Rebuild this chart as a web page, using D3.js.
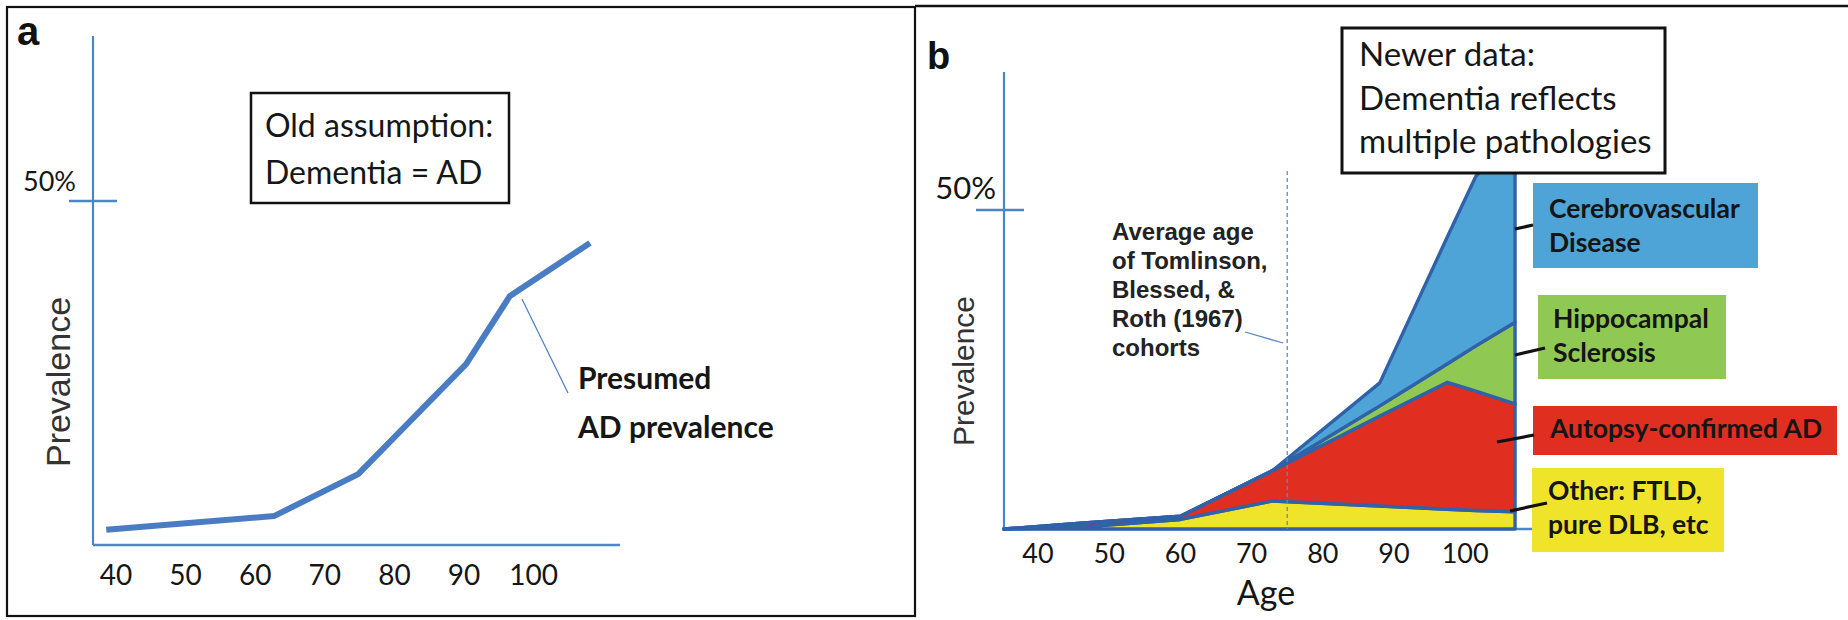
<!DOCTYPE html>
<html>
<head>
<meta charset="utf-8">
<script src="https://cdn.jsdelivr.net/npm/d3@7"></script>
<style>
  html, body { margin: 0; padding: 0; background: #fff; }
  svg { display: block; }
</style>
</head>
<body>
<svg id="chart" width="1848" height="620"></svg>
<script>
// ---------------- DATA ----------------
// Panel a: presumed AD prevalence (old assumption)
const agesA = [38.6, 62.7, 74.8, 90.3, 96.6, 108.1];
const presumedAD = [2.2, 4.2, 10.3, 26.3, 36.2, 43.9];

// Panel b: stacked prevalence by pathology (% thickness of each layer)
const agesB = [35.2, 46, 60, 73, 88, 97.5, 101.5, 107];
const otherVals = [0, 0.3, 1.5, 4.4, 3.6, 3.1, 2.9, 2.7];      // Other: FTLD, pure DLB, etc
const adVals    = [0, 0.6, 0.5, 4.8, 14.1, 19.9, 18.7, 16.9];  // Autopsy-confirmed AD
const hsVals    = [0, 0, 0, 0, 1.6, 2.9, 7.1, 12.8];           // Hippocampal sclerosis
const cvdVals   = [0, 0, 0, 0, 3.6, 19.9, 26.6, 29.0];         // Cerebrovascular disease

const tickAges = [40, 50, 60, 70, 80, 90, 100];
const yTickValue = 50;
const cohortAge = 75;

const seriesKeys = ["other", "ad", "hs", "cvd"];
const seriesColors = { other: "#f0e42a", ad: "#e02e20", hs: "#8fc852", cvd: "#4ea4d6" };
const seriesLabels = {
  cvd:   ["Cerebrovascular", "Disease"],
  hs:    ["Hippocampal", "Sclerosis"],
  ad:    ["Autopsy-confirmed AD"],
  other: ["Other: FTLD,", "pure DLB, etc"]
};
const cohortNote = ["Average age", "of Tomlinson,", "Blessed, &", "Roth (1967)", "cohorts"];

// ---------------- SETUP ----------------
const svg = d3.select("#chart");
const AXIS = "#4a86c8";
const OUTLINE = "#2f62a8";
const CAL = "Lato, 'Open Sans', sans-serif";
const ARIAL = "'Liberation Sans', Arial, sans-serif";
const INK = "#161616";

// frames
svg.append("rect").attr("x", 7).attr("y", 7).attr("width", 908).attr("height", 609)
  .attr("fill", "none").attr("stroke", "#111").attr("stroke-width", 2.2);
svg.append("line").attr("x1", 915).attr("x2", 1848).attr("y1", 6).attr("y2", 6)
  .attr("stroke", "#111").attr("stroke-width", 2.5);

// ================= PANEL A =================
const xA = d3.scaleLinear().domain([40, 90]).range([116, 464]);
const yA = d3.scaleLinear().domain([0, 50]).range([545, 201]);
const gA = svg.append("g");

gA.append("text").attr("x", 17).attr("y", 45).text("a")
  .attr("font-family", ARIAL).attr("font-weight", "bold").attr("font-size", 40).attr("fill", "#111");

// axes
gA.append("line").attr("x1", 93).attr("x2", 93).attr("y1", 36).attr("y2", yA(0))
  .attr("stroke", AXIS).attr("stroke-width", 2.2);
gA.append("line").attr("x1", 93).attr("x2", 620).attr("y1", yA(0)).attr("y2", yA(0))
  .attr("stroke", AXIS).attr("stroke-width", 2.4);
gA.append("line").attr("x1", 69).attr("x2", 117).attr("y1", yA(yTickValue)).attr("y2", yA(yTickValue))
  .attr("stroke", AXIS).attr("stroke-width", 2.4);
gA.append("text").attr("x", 76).attr("y", yA(yTickValue) - 10).attr("text-anchor", "end")
  .attr("font-family", CAL).attr("font-size", 27).attr("fill", INK).text(yTickValue + "%");

gA.selectAll("text.tick").data(tickAges).join("text").attr("class", "tick")
  .attr("x", d => xA(d)).attr("y", 585).attr("text-anchor", "middle")
  .attr("font-family", CAL).attr("font-size", 28).attr("fill", INK).text(d => d);

gA.append("text").attr("transform", "translate(70,382) rotate(-90)").attr("text-anchor", "middle")
  .attr("font-family", ARIAL).attr("font-size", 34).attr("fill", "#333").text("Prevalence");

// line
const lineA = d3.line().x((d, i) => xA(agesA[i])).y(d => yA(d));
gA.append("path").datum(presumedAD).attr("d", lineA)
  .attr("fill", "none").attr("stroke", "#4a7cc4").attr("stroke-width", 6).attr("stroke-linejoin", "round");

// annotation
gA.append("line").attr("x1", xA(agesA[4]) + 12).attr("y1", yA(presumedAD[4]) + 3)
  .attr("x2", 568).attr("y2", 393).attr("stroke", "#4a7cc4").attr("stroke-width", 1.2);
gA.append("text").attr("x", 578).attr("y", 389).attr("font-family", CAL).attr("font-weight", "bold")
  .attr("font-size", 30).attr("fill", INK).text("Presumed");
gA.append("text").attr("x", 578).attr("y", 438).attr("font-family", CAL).attr("font-weight", "bold")
  .attr("font-size", 30).attr("fill", INK).text("AD prevalence");

// box
gA.append("rect").attr("x", 251).attr("y", 93).attr("width", 258).attr("height", 110)
  .attr("fill", "#fff").attr("stroke", "#111").attr("stroke-width", 2.5);
gA.append("text").attr("x", 265).attr("y", 137).attr("font-family", CAL).attr("font-size", 32)
  .attr("fill", INK).text("Old assumption:");
gA.append("text").attr("x", 265).attr("y", 184).attr("font-family", CAL).attr("font-size", 32)
  .attr("fill", INK).text("Dementia = AD");

// ================= PANEL B =================
const xB = d3.scaleLinear().domain([40, 90]).range([1038, 1394]);
const yB = d3.scaleLinear().domain([0, 50]).range([529, 210]);
const gB = svg.append("g");

gB.append("text").attr("x", 927).attr("y", 69).text("b")
  .attr("font-family", ARIAL).attr("font-weight", "bold").attr("font-size", 38).attr("fill", "#111");

gB.append("line").attr("x1", 1004).attr("x2", 1004).attr("y1", 72).attr("y2", yB(0))
  .attr("stroke", AXIS).attr("stroke-width", 2.2);
gB.append("line").attr("x1", 1004).attr("x2", 1532).attr("y1", yB(0)).attr("y2", yB(0))
  .attr("stroke", AXIS).attr("stroke-width", 2.6);
gB.append("line").attr("x1", 976).attr("x2", 1024).attr("y1", yB(yTickValue)).attr("y2", yB(yTickValue))
  .attr("stroke", AXIS).attr("stroke-width", 2.4);
gB.append("text").attr("x", 996).attr("y", yB(yTickValue) - 11).attr("text-anchor", "end")
  .attr("font-family", CAL).attr("font-size", 31).attr("fill", INK).text(yTickValue + "%");

gB.selectAll("text.tick").data(tickAges).join("text").attr("class", "tick")
  .attr("x", d => xB(d)).attr("y", 563).attr("text-anchor", "middle")
  .attr("font-family", CAL).attr("font-size", 27).attr("fill", INK).text(d => d);
gB.append("text").attr("x", 1266).attr("y", 605).attr("text-anchor", "middle")
  .attr("font-family", CAL).attr("font-size", 34).attr("fill", INK).text("Age");

gB.append("text").attr("transform", "translate(974,371) rotate(-90)").attr("text-anchor", "middle")
  .attr("font-family", ARIAL).attr("font-size", 30).attr("fill", "#333").text("Prevalence");

// stacked areas
const rows = agesB.map((a, i) => ({ age: a, other: otherVals[i], ad: adVals[i], hs: hsVals[i], cvd: cvdVals[i] }));
const stacked = d3.stack().keys(seriesKeys)(rows);
const areaB = d3.area().x(d => xB(d.data.age)).y0(d => yB(d[0])).y1(d => yB(d[1]));
gB.selectAll("path.layer").data(stacked).join("path").attr("class", "layer")
  .attr("d", areaB).attr("fill", d => seriesColors[d.key])
  .attr("stroke", OUTLINE).attr("stroke-width", 3.4).attr("stroke-linejoin", "round");

// cohort dashed line
gB.append("line").attr("x1", xB(cohortAge)).attr("x2", xB(cohortAge)).attr("y1", 171).attr("y2", yB(0))
  .attr("stroke", "#6a86b6").attr("stroke-width", 1.3).attr("stroke-dasharray", "4,3");
gB.append("line").attr("x1", 1245).attr("y1", 332).attr("x2", xB(cohortAge) - 4).attr("y2", 343)
  .attr("stroke", "#5b88c4").attr("stroke-width", 1.3);
gB.selectAll("text.note").data(cohortNote).join("text").attr("class", "note")
  .attr("x", 1112).attr("y", (d, i) => 240 + i * 29)
  .attr("font-family", ARIAL).attr("font-weight", "bold").attr("font-size", 24).attr("fill", "#222")
  .text(d => d);

// newer data box
gB.append("rect").attr("x", 1342).attr("y", 28).attr("width", 323).attr("height", 145)
  .attr("fill", "#fff").attr("stroke", "#111").attr("stroke-width", 3);
["Newer data:", "Dementia reflects", "multiple pathologies"].forEach((t, i) => {
  gB.append("text").attr("x", 1359).attr("y", 66 + i * 43.5).attr("font-family", CAL)
    .attr("font-size", 33).attr("fill", INK).text(t);
});

// label boxes
const labelBoxes = [
  { key: "cvd",   x: 1533, y: 183, w: 225, h: 85, tx: 1549, ty: 218, lead: [1515, 229, 1533, 225] },
  { key: "hs",    x: 1538, y: 295, w: 188, h: 84, tx: 1553, ty: 328, lead: [1515, 355, 1545, 348] },
  { key: "ad",    x: 1533, y: 406, w: 304, h: 49, tx: 1550, ty: 438, lead: [1497, 442, 1534, 435] },
  { key: "other", x: 1532, y: 468, w: 192, h: 84, tx: 1548, ty: 500, lead: [1510, 511, 1547, 503] }
];
labelBoxes.forEach(b => {
  gB.append("rect").attr("x", b.x).attr("y", b.y).attr("width", b.w).attr("height", b.h)
    .attr("fill", seriesColors[b.key]);
  seriesLabels[b.key].forEach((t, i) => {
    gB.append("text").attr("x", b.tx).attr("y", b.ty + i * 34).attr("font-family", CAL)
      .attr("font-weight", "bold").attr("font-size", 26.5).attr("fill", "#151515").text(t);
  });
  gB.append("line").attr("x1", b.lead[0]).attr("y1", b.lead[1]).attr("x2", b.lead[2]).attr("y2", b.lead[3])
    .attr("stroke", "#111").attr("stroke-width", 3.2);
});
</script>
</body>
</html>
